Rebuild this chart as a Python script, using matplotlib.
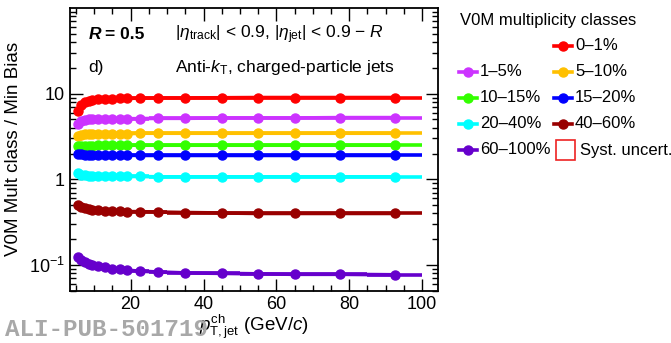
import matplotlib
matplotlib.use('Agg')
import matplotlib.pyplot as plt
from matplotlib.lines import Line2D
from matplotlib.patches import Rectangle
import numpy as np

plt.rcParams['font.family'] = ['Liberation Sans', 'DejaVu Sans']
plt.rcParams['mathtext.fontset'] = 'custom'
plt.rcParams['mathtext.rm'] = 'Liberation Sans'
plt.rcParams['mathtext.it'] = 'Liberation Sans:italic'
plt.rcParams['mathtext.bf'] = 'Liberation Sans:bold'

# --- data ---
bin_edges = [5, 6, 7, 8, 9, 10, 12, 14, 16, 18, 20, 25, 30, 40, 50, 60, 70, 85, 100]
classes = ['0–1%', '1–5%', '5–10%', '10–15%', '15–20%', '20–40%', '40–60%', '60–100%']
colors = ['#ff0000', '#cc33ff', '#ffc000', '#33ff00', '#0000ff', '#00ffff', '#990000', '#6600cc']

r_0_1 = [6.2, 7.4, 8.0, 8.3, 8.5, 8.6, 8.7, 8.7, 8.8, 8.8, 8.85, 8.9, 8.9, 8.95, 9.0, 9.0, 9.0, 9.0]
r_1_5 = [4.4, 4.75, 4.9, 5.0, 5.0, 5.05, 5.05, 5.1, 5.1, 5.1, 5.1, 5.15, 5.15, 5.2, 5.2, 5.2, 5.25, 5.25]
r_5_10 = [3.2, 3.3, 3.35, 3.35, 3.4, 3.4, 3.4, 3.4, 3.4, 3.4, 3.45, 3.45, 3.45, 3.45, 3.45, 3.45, 3.45, 3.45]
r_10_15 = [2.45, 2.47, 2.48, 2.48, 2.48, 2.49, 2.49, 2.5, 2.5, 2.5, 2.5, 2.5, 2.5, 2.5, 2.5, 2.5, 2.5, 2.5]
r_15_20 = [2.0, 1.96, 1.94, 1.93, 1.92, 1.92, 1.92, 1.91, 1.91, 1.91, 1.9, 1.9, 1.9, 1.9, 1.9, 1.9, 1.9, 1.9]
r_20_40 = [1.17, 1.13, 1.11, 1.1, 1.09, 1.09, 1.08, 1.08, 1.08, 1.08, 1.08, 1.07, 1.07, 1.07, 1.07, 1.07, 1.07, 1.07]
r_40_60 = [0.50, 0.475, 0.46, 0.45, 0.44, 0.435, 0.43, 0.43, 0.425, 0.42, 0.42, 0.415, 0.41, 0.405, 0.40, 0.40, 0.40, 0.40]
r_60_100 = [0.125, 0.115, 0.108, 0.103, 0.100, 0.097, 0.094, 0.091, 0.089, 0.087, 0.085, 0.083, 0.081, 0.080, 0.079, 0.078, 0.078, 0.077]
ratios = [r_0_1, r_1_5, r_5_10, r_10_15, r_15_20, r_20_40, r_40_60, r_60_100]

edges = np.array(bin_edges, dtype=float)
centers = 0.5 * (edges[1:] + edges[:-1])
half = 0.5 * (edges[1:] - edges[:-1])

fig = plt.figure(figsize=(6.71, 3.43), dpi=100)
ax = fig.add_axes([0.104, 0.152, 0.549, 0.825])

for vals, c in zip(ratios, colors):
    ax.plot(centers, vals, color=c, lw=2.6, zorder=2)
    ax.errorbar(centers, vals, xerr=half, fmt='o', color=c, ms=6.5, lw=2.6,
                capsize=0, zorder=3)

ax.set_yscale('log')
ax.set_xlim(3.3, 104.4)
ax.set_ylim(0.05, 100)
ax.set_xticks([20, 40, 60, 80, 100])
ax.set_xticks(np.arange(5, 105, 5), minor=True)
ax.set_yticks([0.1, 1, 10])
ax.set_yticklabels(['$10^{-1}$', '1', '10'])
ax.tick_params(which='both', direction='in', top=True, right=True, labelsize=13)
ax.tick_params(which='major', length=9, width=1)
ax.tick_params(which='minor', length=4.5, width=1)
for s in ax.spines.values():
    s.set_linewidth(1.3)

ax.set_ylabel('V0M Mult class / Min Bias', fontsize=13.5, labelpad=5)
ax.set_xlabel(r'$p_{\mathrm{T,jet}}^{\mathrm{ch}}$ (GeV/$c$)', fontsize=13.5, labelpad=0)

ax.text(0.05, 0.905, 'R', transform=ax.transAxes, fontsize=12.5, weight='bold',
        style='italic', va='center')
ax.text(0.095, 0.905, '= 0.5', transform=ax.transAxes, fontsize=12.5, weight='bold', va='center')
ax.text(0.285, 0.905, r'$|\eta_{\mathrm{track}}|$ < 0.9, $|\eta_{\mathrm{jet}}|$ < 0.9 $-$ $R$',
        transform=ax.transAxes, fontsize=12.5, va='center')
ax.text(0.05, 0.79, 'd)', transform=ax.transAxes, fontsize=12.5, va='center')
ax.text(0.285, 0.79, r'Anti-$k_{\mathrm{T}}$, charged-particle jets', transform=ax.transAxes,
        fontsize=12.5, va='center')

# legend drawn by hand in figure pixels
W, H = 671.0, 343.0
fig.text(460 / W, 1 - 21 / H, 'V0M multiplicity classes', fontsize=12, va='center')
slots = [(1, 0), (0, 1), (1, 1), (0, 2), (1, 2), (0, 3), (1, 3), (0, 4)]
col_x = [468, 563]
row_y = [46, 72, 98, 124, 150]
for (col, row), lab, c in zip(slots, classes, colors):
    xm, ym = col_x[col], row_y[row]
    fig.add_artist(Line2D([(xm - 9) / W, (xm + 9) / W], [1 - ym / H] * 2, color=c, lw=2.6))
    fig.add_artist(Line2D([xm / W], [1 - ym / H], color=c, marker='o', ms=6.5))
    fig.text((xm + 12) / W, 1 - ym / H, lab, fontsize=12, va='center')
fig.add_artist(Rectangle((556 / W, 1 - 160 / H), 19 / W, 20 / H, fill=False,
                         edgecolor='#ee2222', lw=1.2))
fig.text(580 / W, 1 - 150 / H, 'Syst. uncert.', fontsize=12, va='center')

fig.text(5 / W, 1 - 330 / H, 'ALI-PUB-501719', fontsize=17.5, color='#a8a8a8',
         family='Liberation Mono', weight='bold', va='center')

fig.savefig('out.png', dpi=100)
